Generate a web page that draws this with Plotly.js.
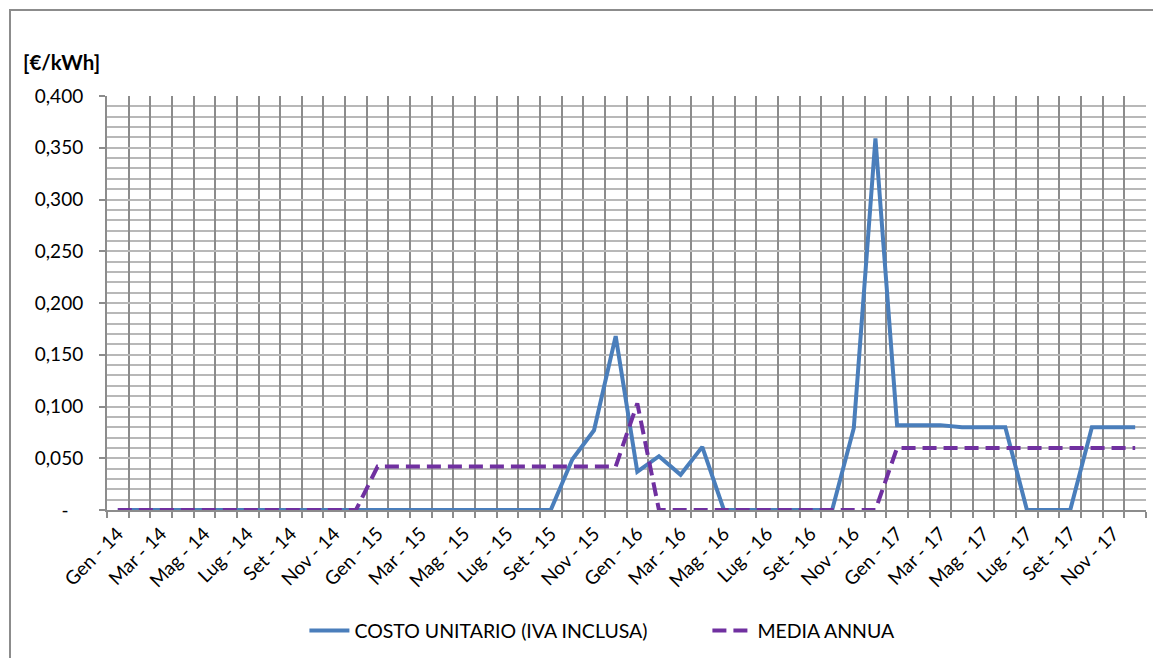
<!DOCTYPE html>
<html>
<head>
<meta charset="utf-8">
<script src="https://cdn.plot.ly/plotly-3.0.1.min.js"></script>
<style>
  html, body { margin: 0; padding: 0; background: #fff; }
  #wrap { position: relative; width: 1153px; height: 658px; }
  #chart { width: 1153px; height: 658px; }
  #frame { position: absolute; left: 9px; top: 9px; right: -5px; bottom: -5px;
           border-top: 2px solid #8c8c8c; border-left: 2px solid #8c8c8c; pointer-events: none; }
</style>
</head>
<body>
<div id="wrap">
  <div id="chart"></div>
  <div id="frame"></div>
</div>
<script>
const monthNames = ["Gen", "Feb", "Mar", "Apr", "Mag", "Giu", "Lug", "Ago", "Set", "Ott", "Nov", "Dic"];
const years = ["14", "15", "16", "17"];
const categories = [];
years.forEach(y => monthNames.forEach(m => categories.push(m + " - " + y)));

const costoUnitario = [
  0, 0, 0, 0, 0, 0, 0, 0, 0, 0, 0, 0,
  0, 0, 0, 0, 0, 0, 0, 0, 0, 0.049, 0.077, 0.168,
  0.037, 0.052, 0.034, 0.061, 0, 0, 0, 0, 0, 0, 0.079, 0.359,
  0.082, 0.082, 0.082, 0.080, 0.080, 0.080, 0, 0, 0, 0.080, 0.080, 0.080
];
const mediaAnnua = [
  0, 0, 0, 0, 0, 0, 0, 0, 0, 0, 0, 0,
  0.042, 0.042, 0.042, 0.042, 0.042, 0.042, 0.042, 0.042, 0.042, 0.042, 0.042, 0.042,
  0.103, 0, 0, 0, 0, 0, 0, 0, 0, 0, 0, 0,
  0.060, 0.060, 0.060, 0.060, 0.060, 0.060, 0.060, 0.060, 0.060, 0.060, 0.060, 0.060
];

const yTickVals = [0, 0.05, 0.1, 0.15, 0.2, 0.25, 0.3, 0.35, 0.4];
const yTickText = ["-&nbsp;&nbsp;&nbsp;", "0,050", "0,100", "0,150", "0,200", "0,250", "0,300", "0,350", "0,400"];

// category positions (index along the category axis) and labels every 2 months
const catIndex = categories.map((c, i) => i);
const xTickVals = catIndex.filter(i => i % 2 === 0);
const xTickText = xTickVals.map(i => categories[i]);
const xRange = [-0.5, categories.length - 0.5];

const fontFam = "Lato, 'Open Sans', sans-serif";

const traces = [
  {
    x: catIndex, y: costoUnitario, type: "scatter", mode: "lines",
    name: "COSTO UNITARIO (IVA INCLUSA)", text: categories,
    xaxis: "x", yaxis: "y",
    line: { color: "#4a7ebb", width: 4 }
  },
  {
    x: catIndex, y: mediaAnnua, type: "scatter", mode: "lines",
    name: "MEDIA ANNUA", text: categories,
    xaxis: "x2", yaxis: "y",
    line: { color: "#7030a0", width: 4, dash: "14px,7px" }
  }
];

const layout = {
  width: 1153, height: 658,
  margin: { l: 107, r: 7, t: 96, b: 146 },
  paper_bgcolor: "#fff", plot_bgcolor: "#fff",
  font: { family: fontFam, size: 19, color: "#000" },
  showlegend: true,
  legend: {
    orientation: "h", x: 0.19, xanchor: "left", y: -0.245, yanchor: "top",
    font: { family: fontFam, size: 19.5, color: "#000" },
    entrywidth: 348, entrywidthmode: "pixels",
    itemwidth: 40, tracegroupgap: 0
  },
  // grid axis: one vertical gridline and tick at every category boundary
  xaxis: {
    type: "linear", range: xRange,
    tickmode: "linear", tick0: -0.5, dtick: 1,
    showticklabels: false,
    ticks: "outside", ticklen: 6, tickcolor: "#8c8c8c", tickwidth: 2,
    showgrid: true, gridcolor: "#8c8c8c", gridwidth: 2,
    showline: true, linecolor: "#8c8c8c", linewidth: 2,
    zeroline: false, fixedrange: true
  },
  // label axis: month labels every 2 categories
  xaxis2: {
    type: "linear", range: xRange, overlaying: "x", anchor: "y", side: "bottom",
    tickmode: "array", tickvals: xTickVals, ticktext: xTickText,
    tickangle: -45, ticks: "", ticklabelstandoff: 8,
    showgrid: false, showline: false, zeroline: false, fixedrange: true,
    tickfont: { family: fontFam, size: 19, color: "#000" }
  },
  yaxis: {
    range: [0, 0.4],
    tickmode: "array", tickvals: yTickVals, ticktext: yTickText,
    ticks: "outside", ticklen: 6, tickcolor: "#8c8c8c", tickwidth: 2,
    ticklabelstandoff: 12,
    showgrid: true, gridcolor: "#b8b8b8", gridwidth: 2,
    minor: { dtick: 0.01, tick0: 0, showgrid: true, gridcolor: "#b8b8b8", gridwidth: 2, ticks: "" },
    showline: true, linecolor: "#8c8c8c", linewidth: 2,
    zeroline: false, fixedrange: true,
    tickfont: { family: fontFam, size: 19, color: "#000" }
  },
  annotations: [
    {
      text: "<b>[€/kWh]</b>", xref: "paper", yref: "paper",
      x: -0.083, y: 1.082, xanchor: "left", yanchor: "middle",
      showarrow: false, font: { family: fontFam, size: 20.5, color: "#000" }
    }
  ]
};

Plotly.newPlot("chart", traces, layout, { displayModeBar: false, staticPlot: true });
</script>
</body>
</html>
